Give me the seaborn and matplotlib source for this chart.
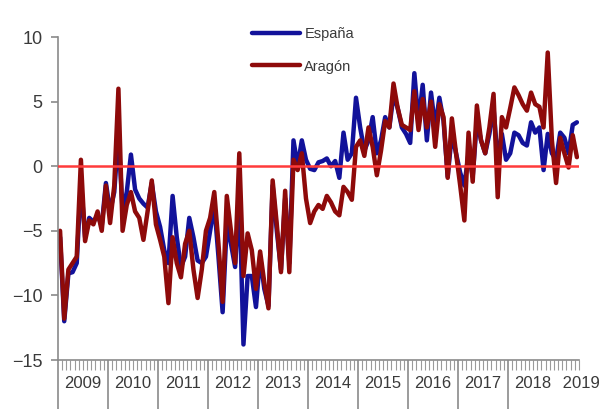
import numpy as np
import pandas as pd
import seaborn as sns
import matplotlib.pyplot as plt

sns.set_theme(style="white")
plt.rcParams['font.family'] = ['Liberation Sans', 'DejaVu Sans']

# monthly series, Jan 2009 - May 2019
years = [2009, 2010, 2011, 2012, 2013, 2014, 2015, 2016, 2017, 2018, 2019]

espana = [
    -5.5, -12.0, -8.3, -8.2, -7.5, -1.2, -5.5, -4.0, -4.3, -3.8, -4.6, -1.3,   # 2009
    -3.5, -2.0, 2.5, -3.5, -2.0, 0.9, -1.8, -2.5, -2.9, -3.2, -1.3, -3.5,      # 2010
    -4.7, -6.5, -7.5, -2.3, -5.5, -7.8, -7.0, -4.0, -5.5, -7.3, -7.5, -7.0,    # 2011
    -5.0, -3.0, -7.0, -11.3, -4.5, -6.0, -7.8, -2.0, -13.8, -8.5, -8.5, -10.9, # 2012
    -7.0, -9.5, -10.8, -1.5, -5.0, -8.0, -2.5, -7.5, 2.0, 0.0, 2.0, 0.5,       # 2013
    -0.2, -0.3, 0.3, 0.4, 0.6, 0.0, 0.4, -0.9, 2.6, 0.5, 1.0, 5.3,             # 2014
    3.0, 1.2, 2.0, 3.8, 1.0, 2.0, 3.8, 3.0, 5.5, 4.5, 3.0, 2.5,                # 2015
    1.8, 7.2, 3.4, 6.3, 2.0, 5.7, 3.0, 5.3, 3.5, -0.8, 2.5, 1.0,               # 2016
    -0.5, -1.5, 1.0, -0.8, 3.5, 2.0, 1.0, 2.5, 4.5, 0.5, 2.5, 0.5,             # 2017
    1.0, 2.6, 2.4, 1.8, 1.6, 3.4, 2.6, 3.0, -0.3, 2.5, 1.0, 0.5,               # 2018
    2.6, 2.2, 1.0, 3.2, 3.4,                                                   # 2019
]

aragon = [
    -5.0, -11.8, -8.0, -7.5, -7.0, 0.5, -5.8, -4.2, -4.5, -3.5, -5.0, -1.5,   # 2009
    -4.4, -1.5, 6.0, -5.0, -3.0, -2.0, -3.5, -4.0, -5.7, -3.5, -1.1, -4.5,     # 2010
    -5.7, -7.0, -10.6, -5.5, -7.5, -8.6, -6.0, -5.0, -8.0, -10.2, -8.0, -5.0,  # 2011
    -4.0, -2.0, -6.0, -10.5, -2.3, -5.0, -7.5, 1.0, -8.5, -5.2, -6.5, -9.5,    # 2012
    -6.6, -9.0, -11.0, -1.1, -4.5, -8.2, -1.9, -8.2, 0.5, -0.3, 1.0, -2.5,     # 2013
    -4.4, -3.5, -3.0, -3.3, -2.3, -2.8, -3.5, -3.8, -1.6, -2.0, -2.6, 1.5,     # 2014
    2.0, 0.8, 3.0, 1.5, -0.7, 1.2, 3.5, 3.0, 6.4, 4.5, 3.2, 3.0,               # 2015
    2.8, 5.8, 2.8, 5.2, 3.0, 5.0, 1.5, 4.8, 3.8, -0.9, 3.7, 1.0,               # 2016
    -1.5, -4.2, 2.6, -1.2, 4.7, 2.0, 1.0, 3.0, 5.6, -2.4, 3.8, 3.0,            # 2017
    4.5, 6.1, 5.5, 4.8, 4.3, 5.7, 4.8, 4.6, 3.0, 8.8, 2.0, -1.3,               # 2018
    2.2, 1.0, -0.1, 2.4, 0.7,                                                  # 2019
]

n = len(espana)
idx = np.arange(n)
df = pd.DataFrame({
    'mes': np.concatenate([idx, idx]),
    'valor': espana + aragon,
    'serie': ['España'] * n + ['Aragón'] * n,
})

fig = plt.figure(figsize=(5.99, 4.09), dpi=100)
ax = fig.add_axes([0.0968, 0.1198, 0.8698, 0.7897])

sns.lineplot(data=df, x='mes', y='valor', hue='serie',
             palette={'España': '#12129a', 'Aragón': '#8e0a0a'},
             linewidth=3.2, ax=ax)
ax.axhline(0, color='#ff3b3b', linewidth=1.8, zorder=5)

ax.set_xlim(-0.5, n - 0.5)
ax.set_ylim(-15, 10)
ax.set_yticks([-15, -10, -5, 0, 5, 10])
ax.set_xlabel('')
ax.set_ylabel('')

for s in ['top', 'right']:
    ax.spines[s].set_visible(False)
for s in ['left', 'bottom']:
    ax.spines[s].set_color('#8a8a8a')
    ax.spines[s].set_linewidth(1.2)

ax.tick_params(axis='y', left=True, length=5, width=1.2, color='#8a8a8a',
               labelsize=13, labelcolor='#3a3a3a', pad=6)

# year separators (long) and month marks (short)
ax.set_xticks(np.arange(len(years) - 1) * 12 - 0.5)
ax.set_xticks(np.arange(n + 1) - 0.5, minor=True)
ax.tick_params(axis='x', which='major', bottom=True, length=35, width=1.2,
               color='#8a8a8a', labelbottom=False)
ax.tick_params(axis='x', which='minor', bottom=True, length=7, width=0.8,
               color='#9a9a9a')

trans = ax.get_xaxis_transform()
for k, yr in enumerate(years):
    if k == len(years) - 1:
        # last year sits at the right edge, keep it inside the figure
        ax.text(k * 12 - 0.5, -0.072, ' ' + str(yr), transform=trans,
                ha='left', va='center', fontsize=12, color='#3a3a3a',
                clip_on=False)
    else:
        ax.text(k * 12 + 5.5, -0.072, str(yr), transform=trans, ha='center',
                va='center', fontsize=12, color='#3a3a3a', clip_on=False)

handles, labels = ax.get_legend_handles_labels()
keep = [(h, l) for h, l in zip(handles, labels) if l in ('España', 'Aragón')]
leg = ax.legend([h for h, l in keep], [l for h, l in keep],
                loc='upper left', bbox_to_anchor=(0.372, 1.03),
                frameon=False, fontsize=10.5, handlelength=3.3,
                handletextpad=0.3, labelspacing=1.25,
                borderpad=0, borderaxespad=0)
for t in leg.get_texts():
    t.set_color('#3a3a3a')
for h in leg.get_lines():
    h.set_linewidth(3.2)

fig.savefig('out.png', dpi=100)
